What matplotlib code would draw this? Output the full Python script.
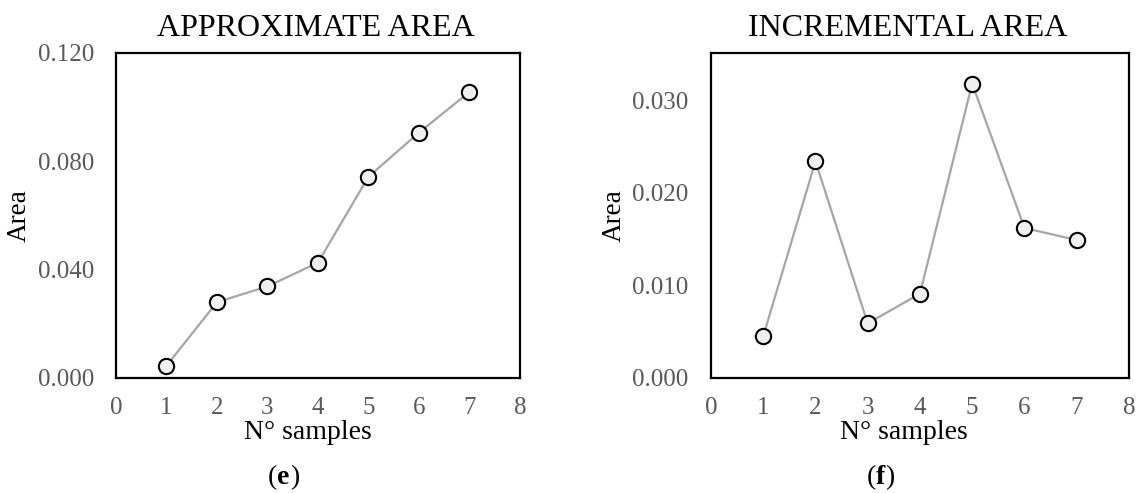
import matplotlib.pyplot as plt

plt.rcParams['font.family'] = ['Liberation Serif', 'DejaVu Serif']

samples = [1, 2, 3, 4, 5, 6, 7]
approx_area = [0.0045, 0.028, 0.0338, 0.0426, 0.0743, 0.0906, 0.1056]
incr_area = [0.0045, 0.0234, 0.0059, 0.0091, 0.0318, 0.0162, 0.0149]

left_yticks = [0.0, 0.04, 0.08, 0.12]
right_yticks = [0.0, 0.01, 0.02, 0.03]

fig = plt.figure(figsize=(11.37, 4.93), dpi=100)
ax1 = fig.add_axes([0.102, 0.2333, 0.3553, 0.6592])
ax2 = fig.add_axes([0.6253, 0.2333, 0.3676, 0.6592])

# axes, values, title, y max, y ticks, title x, xlabel x
panels = [
    (ax1, approx_area, 'APPROXIMATE AREA', 0.12, left_yticks, 0.495, 0.475),
    (ax2, incr_area, 'INCREMENTAL AREA', 0.0351, right_yticks, 0.47, 0.462),
]

for ax, vals, title, ymax, yt, tx, lx in panels:
    ax.plot(samples, vals, color='#a6a6a6', linewidth=1.6,
            marker='o', markersize=11, markerfacecolor='#efefef',
            markeredgecolor='black', markeredgewidth=1.5, zorder=3)
    ax.set_xlim(0, 8)
    ax.set_ylim(0, ymax)
    ax.set_xticks(range(0, 9))
    ax.set_yticks(yt)
    ax.set_yticklabels([f'{v:.3f}' for v in yt])
    ax.tick_params(length=0, labelsize=18, labelcolor='#595959')
    ax.tick_params(axis='y', pad=16)
    ax.tick_params(axis='x', pad=14)
    for s in ax.spines.values():
        s.set_linewidth(1.6)
        s.set_color('black')
    ax.set_title(title, fontsize=23, pad=12, x=tx)
    ax.set_xlabel('N° samples', fontsize=20)
    ax.xaxis.set_label_coords(lx, -0.128)
    ax.set_ylabel('Area', fontsize=19.5, labelpad=4)

ty = 1 - 478 / 493
fig.text(0.2436, ty, '(', fontsize=20, ha='right', va='center')
fig.text(0.2436, ty, 'e', fontsize=20, ha='left', va='center', fontweight='bold')
fig.text(0.2436 + 0.0115, ty, ')', fontsize=20, ha='left', va='center')

fig.text(0.7704, ty, '(', fontsize=20, ha='right', va='center')
fig.text(0.7704, ty, 'f', fontsize=20, ha='left', va='center', fontweight='bold')
fig.text(0.7704 + 0.0085, ty, ')', fontsize=20, ha='left', va='center')

plt.savefig('out.png', dpi=100)
